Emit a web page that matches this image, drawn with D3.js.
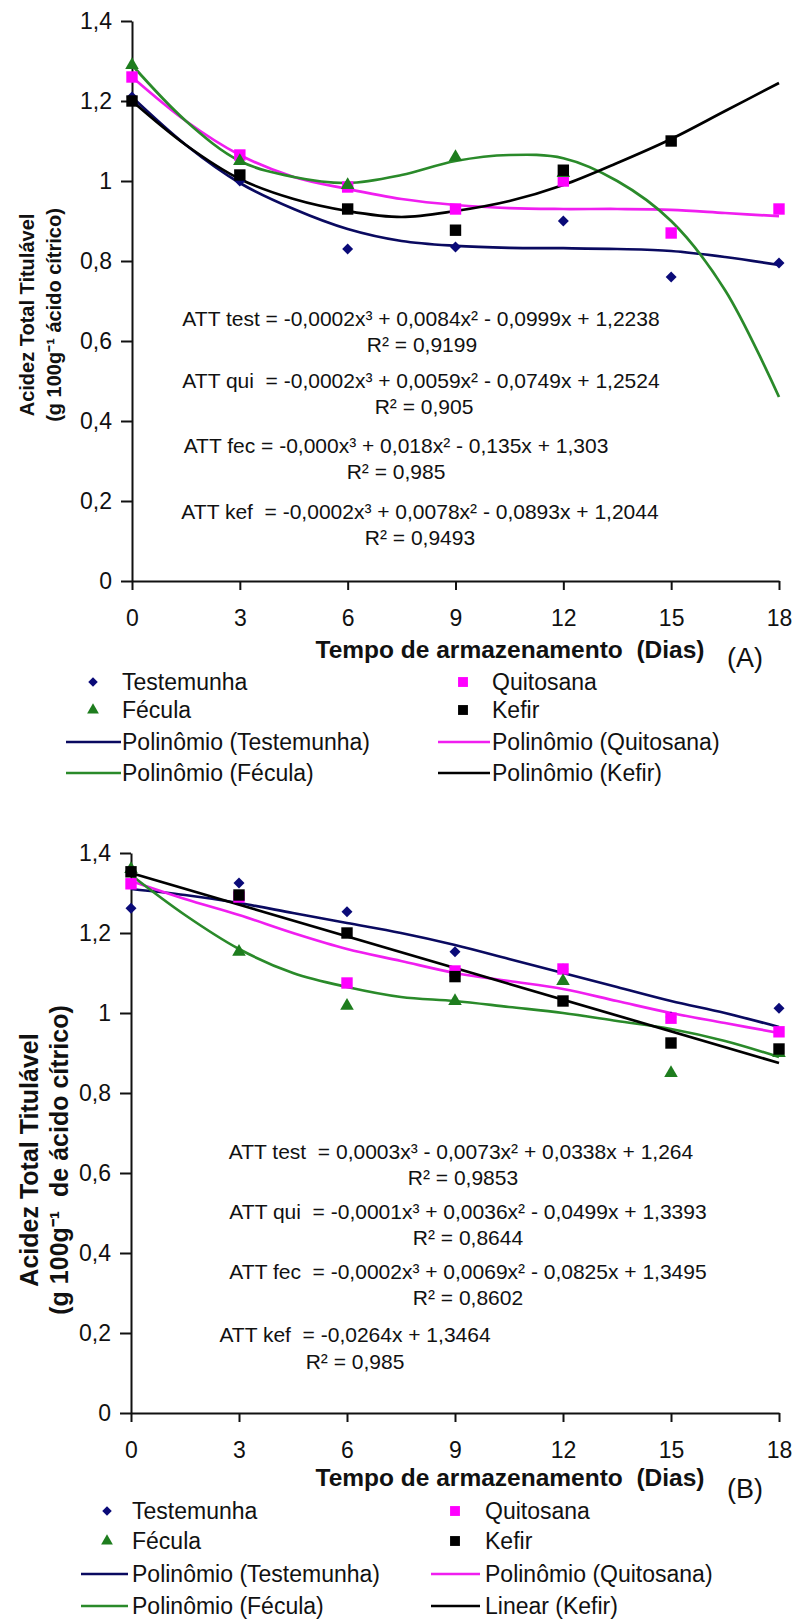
<!DOCTYPE html>
<html>
<head>
<meta charset="utf-8">
<script src="https://cdn.jsdelivr.net/npm/d3@7"></script>
<style>
  body { margin: 0; background: #fff; }
  svg { display: block; }
  text { font-family: "Liberation Sans", Arial, sans-serif; fill: #111; }
</style>
</head>
<body>
<div id="chart"></div>
<script>
// ---- data ----
const days = [0, 3, 6, 9, 12, 15, 18];
const yTicks = [0, 0.2, 0.4, 0.6, 0.8, 1, 1.2, 1.4];
const trendDays = [0, 1.5, 3, 4.5, 6, 7.5, 9, 10.5, 12, 13.5, 15, 16.5, 18];

// panel A – observed points
const testA = [1.21, 1.00, 0.83, 0.835, 0.90, 0.76, 0.795];
const quiA  = [1.26, 1.065, 0.985, 0.93, 1.00, 0.87, 0.93];
const fecA  = [1.29, 1.05, 0.99, 1.06, 1.02, null, null];
const kefA  = [1.20, 1.015, 0.93, 0.877, 1.027, 1.10, null];
// panel A – trendlines
const testTrendA = [1.21, 1.09, 0.995, 0.93, 0.88, 0.85, 0.838, 0.833, 0.832, 0.83, 0.825, 0.81, 0.79];
const quiTrendA  = [1.26, 1.15, 1.065, 1.01, 0.98, 0.955, 0.94, 0.932, 0.93, 0.93, 0.928, 0.92, 0.912];
const fecTrendA  = [1.29, 1.15, 1.05, 1.01, 0.995, 1.015, 1.05, 1.065, 1.057, 1.0, 0.90, 0.727, 0.46];
const kefTrendA  = [1.20, 1.09, 1.005, 0.955, 0.925, 0.91, 0.925, 0.95, 0.99, 1.045, 1.105, 1.175, 1.245];

// panel B – observed points
const testB = [1.262, 1.325, 1.253, 1.153, 1.11, 0.99, 1.012];
const quiB  = [1.323, 1.29, 1.075, 1.105, 1.11, 0.987, 0.953];
const fecB  = [1.36, 1.153, 1.018, 1.03, 1.08, 0.85, 0.90];
const kefB  = [1.353, 1.295, 1.20, 1.091, 1.03, 0.925, 0.91];
// panel B – trendlines
const testTrendB = [1.31, 1.295, 1.275, 1.25, 1.225, 1.20, 1.17, 1.135, 1.10, 1.065, 1.03, 1.0, 0.965];
const quiTrendB  = [1.33, 1.285, 1.245, 1.20, 1.16, 1.13, 1.10, 1.08, 1.06, 1.03, 1.0, 0.975, 0.95];
const fecTrendB  = [1.345, 1.245, 1.16, 1.10, 1.065, 1.04, 1.03, 1.015, 1.0, 0.98, 0.96, 0.93, 0.89];
const kefLineDaysB = [0, 18];
const kefTrendB  = [1.35, 0.875];

const eqA = [
  "ATT test = -0,0002x³ + 0,0084x² - 0,0999x + 1,2238", "R² = 0,9199",
  "ATT qui  = -0,0002x³ + 0,0059x² - 0,0749x + 1,2524", "R² = 0,905",
  "ATT fec = -0,000x³ + 0,018x² - 0,135x + 1,303", "R² = 0,985",
  "ATT kef  = -0,0002x³ + 0,0078x² - 0,0893x + 1,2044", "R² = 0,9493"
];
const eqB = [
  "ATT test  = 0,0003x³ - 0,0073x² + 0,0338x + 1,264", "R² = 0,9853",
  "ATT qui  = -0,0001x³ + 0,0036x² - 0,0499x + 1,3393", "R² = 0,8644",
  "ATT fec  = -0,0002x³ + 0,0069x² - 0,0825x + 1,3495", "R² = 0,8602",
  "ATT kef  = -0,0264x + 1,3464", "R² = 0,985"
];
const seriesNames = ["Testemunha", "Quitosana", "Fécula", "Kefir"];
const legendA = ["Testemunha", "Quitosana", "Fécula", "Kefir",
  "Polinômio (Testemunha)", "Polinômio (Quitosana)", "Polinômio (Fécula)", "Polinômio (Kefir)"];
const legendB = ["Testemunha", "Quitosana", "Fécula", "Kefir",
  "Polinômio (Testemunha)", "Polinômio (Quitosana)", "Polinômio (Fécula)", "Linear (Kefir)"];

// ---- styles ----
const markerColor = { Testemunha: "#0a0a78", Quitosana: "#ff00ff", "Fécula": "#1e7d1e", Kefir: "#000" };
const lineColor   = { Testemunha: "#0a0a60", Quitosana: "#f01ef0", "Fécula": "#2a8a2a", Kefir: "#000" };

const W = 796, H = 1620;
const svg = d3.select("#chart").append("svg").attr("width", W).attr("height", H);

const comma = d => String(+d.toFixed(1)).replace(".", ",");

function markerPath(name, scale) {
  const s = scale || 1;
  if (name === "Testemunha") return d3.symbol(d3.symbolSquare, 60 * s)();
  if (name === "Fécula") return d3.symbol(d3.symbolTriangle, 80 * s)();
  return d3.symbol(d3.symbolSquare, 130 * s)();
}
function markerRot(name) { return name === "Testemunha" ? " rotate(45)" : ""; }

function drawPanel(p) {
  const x = d3.scaleLinear().domain([0, 18]).range([p.left, p.right]);
  const y = d3.scaleLinear().domain([0, 1.4]).range([p.bottom, p.top]);
  const g = svg.append("g");

  const xAxis = g.append("g").attr("transform", `translate(0,${p.bottom})`)
    .call(d3.axisBottom(x).tickValues(days).tickSize(9).tickSizeOuter(0).tickPadding(20).tickFormat(d => d));
  const yAxis = g.append("g").attr("transform", `translate(${p.left},0)`)
    .call(d3.axisLeft(y).tickValues(yTicks).tickSize(11).tickSizeOuter(0).tickPadding(9).tickFormat(comma));
  [xAxis, yAxis].forEach(a => {
    a.selectAll("path,line").attr("stroke", "#111").attr("stroke-width", 2);
    a.selectAll("text").attr("font-size", 23).attr("fill", "#222").style("font-family", "'Liberation Sans', Arial");
  });

  // trendlines
  const line = d3.line().defined(d => d[1] != null)
    .x(d => x(d[0])).y(d => y(d[1])).curve(d3.curveCatmullRom.alpha(0.5));
  p.trends.forEach((t, i) => {
    g.append("path")
      .datum(t.days.map((d, j) => [d, t.values[j]]))
      .attr("d", line)
      .attr("fill", "none")
      .attr("stroke", lineColor[seriesNames[i]])
      .attr("stroke-width", 2.7);
  });

  // markers
  p.points.forEach((vals, i) => {
    const name = seriesNames[i];
    g.append("g").selectAll("path")
      .data(days.map((d, j) => [d, vals[j]]).filter(d => d[1] != null))
      .enter().append("path")
      .attr("d", markerPath(name))
      .attr("transform", d => `translate(${x(d[0])},${y(d[1])})` + markerRot(name))
      .attr("fill", markerColor[name]);
  });

  // equations
  p.eqPos.forEach((pos, i) => {
    g.append("text")
      .attr("x", pos[0]).attr("y", pos[1])
      .attr("text-anchor", "middle")
      .attr("font-size", 21)
      .style("white-space", "pre")
      .text(p.eq[i]);
  });

  // axis titles
  g.append("text")
    .attr("x", p.xTitle[0]).attr("y", p.bottom + p.xTitle[1])
    .attr("text-anchor", "middle").attr("font-size", 24.5).attr("font-weight", "bold")
    .style("white-space", "pre")
    .text("Tempo de armazenamento  (Dias)");
  g.append("text")
    .attr("x", p.tag[0]).attr("y", p.bottom + p.tag[1])
    .attr("text-anchor", "middle").attr("font-size", 27)
    .text(p.tagText);

  g.append("text")
    .attr("transform", `translate(${p.yTitle.x1},${p.yTitle.cy}) rotate(-90)`)
    .attr("text-anchor", "middle").attr("font-size", p.yTitle.size).attr("font-weight", "bold")
    .text("Acidez Total Titulável");
  g.append("text")
    .attr("transform", `translate(${p.yTitle.x2},${p.yTitle.cy}) rotate(-90)`)
    .attr("text-anchor", "middle").attr("font-size", p.yTitle.size).attr("font-weight", "bold")
    .style("white-space", "pre")
    .text(p.yTitle.unit);

  // legend
  p.legend.forEach((label, i) => {
    const col = i % 2, row = Math.floor(i / 2);
    const name = seriesNames[(row % 2) * 2 + col];
    const cy = p.bottom + p.legRows[row];
    const lx = p.legCols[col];
    if (row < 2) {
      g.append("path").attr("d", markerPath(name, 0.75))
        .attr("transform", `translate(${lx.marker},${cy})` + markerRot(name))
        .attr("fill", markerColor[name]);
    } else {
      g.append("line").attr("x1", lx.line[0]).attr("x2", lx.line[1])
        .attr("y1", cy).attr("y2", cy)
        .attr("stroke", lineColor[name]).attr("stroke-width", 2.7);
    }
    g.append("text").attr("x", lx.text).attr("y", cy + 8)
      .attr("font-size", 23).text(label);
  });
}

drawPanel({
  left: 132, right: 779, top: 21, bottom: 581,
  points: [testA, quiA, fecA, kefA],
  trends: [
    { days: trendDays, values: testTrendA },
    { days: trendDays, values: quiTrendA },
    { days: trendDays, values: fecTrendA },
    { days: trendDays, values: kefTrendA }
  ],
  eq: eqA,
  eqPos: [[421, 326], [422, 352], [421, 388], [424, 414], [396, 453], [396, 479], [420, 519], [420, 545]],
  xTitle: [510, 77], tag: [745, 86], tagText: "(A)",
  yTitle: { x1: 34, x2: 61, cy: 315, size: 20, unit: "(g 100g⁻¹ ácido cítrico)" },
  legend: legendA,
  legRows: [101, 129, 161, 192],
  legCols: [{ marker: 93, line: [66, 121], text: 122 }, { marker: 463, line: [438, 490], text: 492 }]
});

drawPanel({
  left: 131, right: 779, top: 853, bottom: 1413,
  points: [testB, quiB, fecB, kefB],
  trends: [
    { days: trendDays, values: testTrendB },
    { days: trendDays, values: quiTrendB },
    { days: trendDays, values: fecTrendB },
    { days: kefLineDaysB, values: kefTrendB }
  ],
  eq: eqB,
  eqPos: [[461, 1159], [463, 1185], [468, 1219], [468, 1245], [468, 1279], [468, 1305], [355, 1342], [355, 1369]],
  xTitle: [510, 73], tag: [745, 85], tagText: "(B)",
  yTitle: { x1: 38, x2: 68, cy: 1160, size: 25, unit: "(g 100g⁻¹  de ácido cítrico)" },
  legend: legendB,
  legRows: [98, 128, 161, 193],
  legCols: [{ marker: 107, line: [81, 128], text: 132 }, { marker: 455, line: [431, 480], text: 485 }]
});
</script>
</body>
</html>
